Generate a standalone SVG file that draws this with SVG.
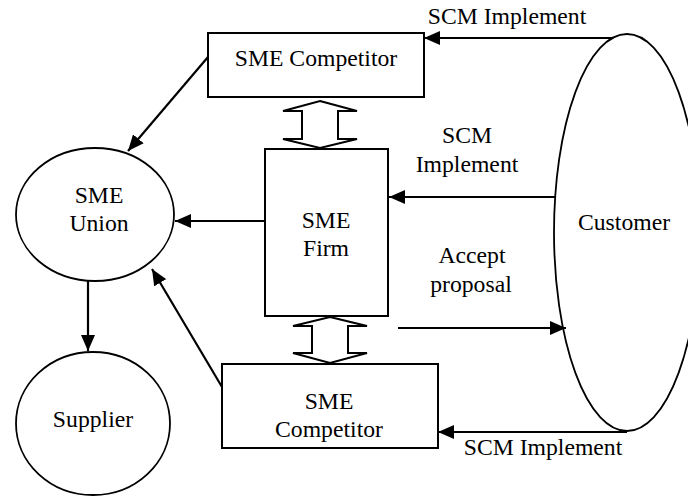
<svg xmlns="http://www.w3.org/2000/svg" width="688" height="497" viewBox="0 0 688 497">
<style>
.s{fill:#fff;stroke:#000;stroke-width:2}
.e{fill:#fff;stroke:#000;stroke-width:1.8}
.t{font-family:"Liberation Serif","Times New Roman",serif;font-size:23.7px;fill:#000;text-anchor:middle}
.c{stroke:#000;stroke-width:2.2;fill:none}
.d{fill:#fff;stroke:#000;stroke-width:2;stroke-linejoin:miter}
</style>
<defs>
<marker id="ah" markerUnits="userSpaceOnUse" markerWidth="16" markerHeight="14" refX="16" refY="7" orient="auto">
<path d="M0,0 L16,7 L0,14 z" fill="#000"/>
</marker>
</defs>
<g id="customer"><ellipse class="e" cx="627" cy="232.5" rx="73" ry="198.5"/><text class="t" x="624" y="230">Customer</text></g>
<g id="competitor-top"><rect class="s" x="208" y="33" width="216" height="64"/><text class="t" x="316" y="66">SME Competitor</text></g>
<g id="firm"><rect class="s" x="265" y="149" width="123" height="167"/><text class="t" x="326" y="228">SME</text><text class="t" x="326" y="256">Firm</text></g>
<g id="competitor-bottom"><rect class="s" x="222" y="364" width="216" height="84"/><text class="t" x="329" y="409">SME</text><text class="t" x="329" y="437">Competitor</text></g>
<g id="union"><ellipse class="e" cx="95" cy="214.5" rx="79" ry="66.5"/><text class="t" x="99" y="203">SME</text><text class="t" x="99" y="231">Union</text></g>
<g id="supplier"><ellipse class="e" cx="93" cy="423.5" rx="77" ry="71.5"/><text class="t" x="93" y="427">Supplier</text></g>
<g id="connectors">
<line class="c" x1="612" y1="38" x2="424" y2="38" marker-end="url(#ah)"/>
<line class="c" x1="556" y1="197" x2="389" y2="197" marker-end="url(#ah)"/>
<line class="c" x1="398" y1="328" x2="566" y2="328" marker-end="url(#ah)"/>
<line class="c" x1="627" y1="432" x2="438" y2="432" marker-end="url(#ah)"/>
<line class="c" x1="265" y1="221" x2="175" y2="221" marker-end="url(#ah)"/>
<line class="c" x1="208" y1="57" x2="128" y2="151" marker-end="url(#ah)"/>
<line class="c" x1="222" y1="387" x2="152" y2="269" marker-end="url(#ah)"/>
<line class="c" x1="88" y1="281" x2="88" y2="351" marker-end="url(#ah)"/>
<path class="d" d="M320,101 L357,111 L338,111 L338,139 L357,139 L320,148 L283,139 L302,139 L302,111 L283,111 Z"/>
<path class="d" d="M330,317 L367,326 L348,326 L348,353 L367,353 L330,363 L293,353 L312,353 L312,326 L293,326 Z"/>
</g>
<g id="labels">
<text class="t" x="507" y="24">SCM Implement</text>
<text class="t" x="467" y="143">SCM</text>
<text class="t" x="467" y="172">Implement</text>
<text class="t" x="472" y="263">Accept</text>
<text class="t" x="471" y="292">proposal</text>
<text class="t" x="543" y="455">SCM Implement</text>
</g>
</svg>
